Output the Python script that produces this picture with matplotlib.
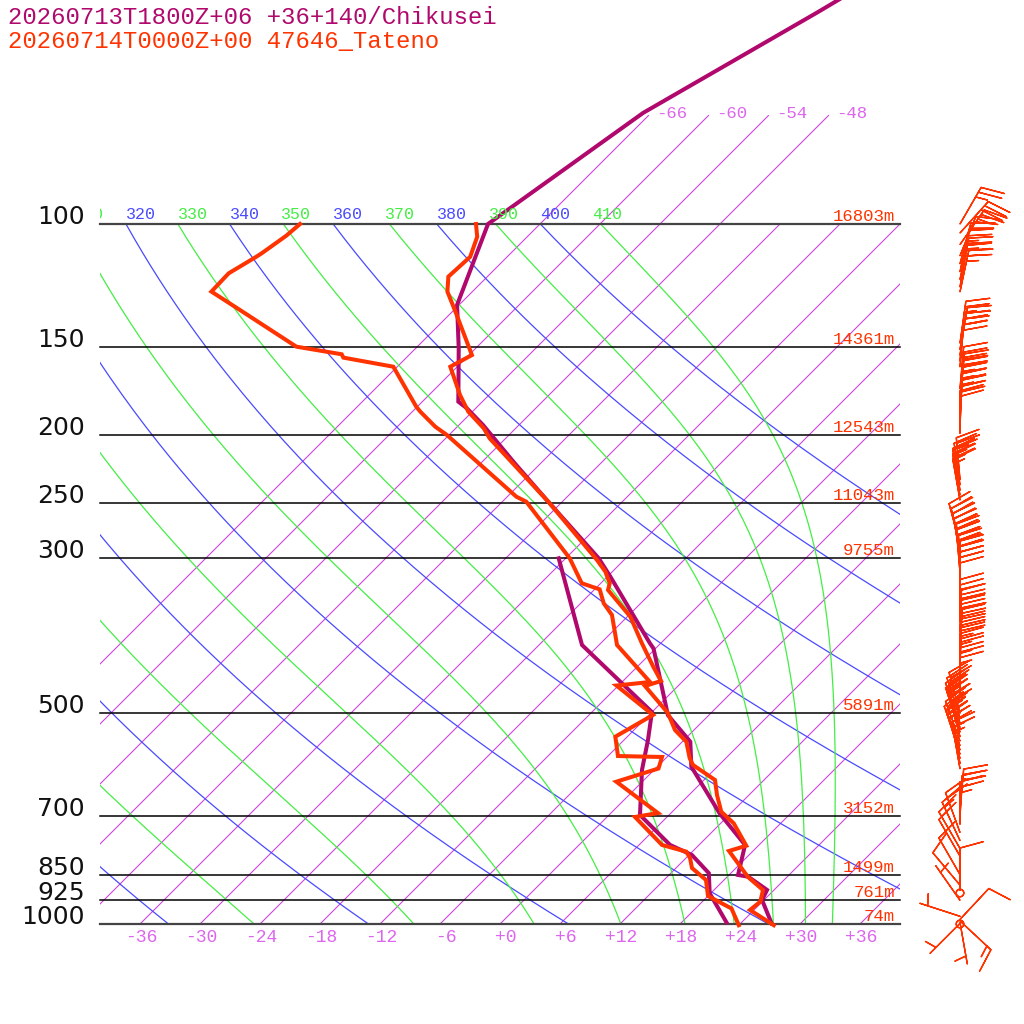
import numpy as np
import matplotlib
matplotlib.use('Agg')
import matplotlib.pyplot as plt
from matplotlib.patches import Rectangle

# Chikusei (model, purple) temperature and dew point
chik_p = [43.3, 49.8, 69.4, 100, 130.5, 150.5, 179.4, 183.3, 193.7, 219.7, 249.3, 300.3, 319, 397, 404,
          503, 549, 596, 695, 771, 851, 856, 894, 924, 998]
chik_t = [-56.5, -59.4, -66.8, -71.2, -66.2, -61.7, -56.4, -54.9, -51.6, -44.6, -37.4, -26.7, -23.7, -13.1, -12.2,
          -4.1, 0.8, 3.4, 10.9, 16.6, 18.9, 20.1, 23.3, 23.8, 27.1]
chik_td_p = [300.3, 399.4, 498, 546, 602.6, 698.7, 771, 797, 846, 904, 995]
chik_td = [-30.7, -19.7, -6.0, -3.6, -1.2, 3.1, 9.1, 12.3, 15.8, 17.9, 22.5]

# Tateno (radiosonde, red) temperature and dew point
tat_p = [100, 104.3, 111.4, 118.9, 124.9, 133.4, 153.9, 159.9, 175.5, 185.4, 195.8, 202.4, 250.6, 302, 313.8,
         326, 333.3, 363.9, 397, 429, 449.6, 457.1, 499.6, 528.3, 549, 579.8, 592.7, 622.7, 654.2, 691.2,
         718, 773, 786.5, 856.8, 894.2, 929.3, 955, 1004]
tat_t = [-72.4, -71.0, -69.7, -69.9, -68.5, -65.7, -59.7, -60.7, -56.9, -54.4, -51.2, -49.6, -37.1, -26.7, -24.7,
         -23.1, -22.6, -17.7, -13.9, -10.4, -8.2, -9.3, -4.3, -1.9, 0.4, 2.4, 3.4, 7.1, 8.8, 10.9,
         13.3, 16.8, 15.6, 20.1, 22.9, 23.8, 23.6, 27.5]
tat_td_p = [100, 103.9, 110.1, 111.4, 117.6, 124.9, 132.7, 149.7, 153.5, 155.2, 159.9, 182.4, 185.4, 194.8,
            200.2, 245.2, 249.3, 300.3, 326, 332.6, 348.2, 361.9, 399.4, 451.1, 456.4, 502.8, 540, 575.5,
            577.3, 599.6, 626.2, 694.2, 703.3, 771.1, 788.3, 804.8, 831.8, 865.3, 912, 950.3, 1004]
tat_td = [-90.0, -90.2, -90.9, -91.1, -92.2, -92.1, -87.4, -78.1, -72.8, -72.3, -66.4, -60.1, -59.2, -56.2,
          -54.2, -41.1, -39.6, -29.6, -25.9, -23.5, -21.7, -19.7, -16.2, -9.2, -12.2, -5.6, -7.2, -5.0,
          -0.5, 0.3, -2.6, 4.7, 2.8, 8.3, 11.4, 12.4, 13.6, 16.2, 18.0, 21.6, 24.0]

# Tateno winds: pressure (hPa), direction (deg), speed (kt)
wind_p = [100, 103, 107, 111, 114, 117, 120, 123, 125,
          148, 151, 154, 157, 160,
          172, 176, 180, 184, 188, 192, 196, 199,
          232, 236, 240, 244, 248,
          287, 292, 297, 302, 308, 314, 320, 326, 332, 338,
          370, 382, 394, 406, 418, 430, 442, 455, 470,
          500, 508, 516, 524, 532, 540, 548, 556, 564, 572, 580, 590, 600,
          690, 705, 720,
          740, 760, 780, 800,
          850, 880, 895, 903, 925,
          975, 985, 990, 995, 998, 1000]
wind_dir = [30, 42, 35, 22, 15, 12, 12, 10, 12,
            8, 10, 8, 5, 5,
            5, 6, 5, 4, 3, 3, 2, 0,
            355, 352, 350, 350, 350,
            345, 348, 350, 352, 355, 355, 358, 0, 0, 0,
            0, 2, 2, 3, 2, 2, 0, 0, 0,
            345, 342, 340, 340, 342, 345, 340, 338, 340, 342, 345, 350, 350,
            5, 3, 0,
            340, 335, 330, 330,
            330, 320, 0, 0, 325,
            288, 43, 133, 170, 225, 0]
wind_kt = [25, 30, 25, 20, 20, 25, 25, 25, 25,
           25, 25, 25, 20, 20,
           30, 30, 25, 25, 25, 20, 20, 20,
           25, 25, 25, 20, 15,
           30, 30, 30, 30, 30, 30, 30, 30, 30, 30,
           30, 30, 30, 30, 30, 25, 25, 25, 25,
           25, 25, 25, 20, 25, 25, 20, 20, 20, 20, 20, 15, 15,
           25, 25, 25,
           20, 15, 15, 10,
           10, 10, 10, 0, 5,
           5, 10, 15, 5, 5, 0]

isobars = [1000, 925, 850, 700, 500, 300, 250, 200, 150, 100]
heights = ['74m', '761m', '1499m', '3152m', '5891m', '9755m', '11043m', '12543m', '14361m', '16803m']
isotherms = list(range(-66, 37, 6))
dry_theta = list(range(240, 401, 20))
moist_thetae = list(range(250, 411, 20))

C_CHIK = '#b0086c'
C_TAT = '#ff3300'
C_ISO = '#cc44dd'
C_ISO_TXT = '#dd66ee'
C_DRY = '#4a4aff'
C_MOIST = '#44ee44'

Rd, CP, LV, EPS = 287.04, 1005.7, 2.501e6, 0.622


def skx(t, p):
    # skew-T: 10 px per degree, 700 px per decade of pressure, 45 degree isotherms
    return np.asarray(t, float) + 70.0 * np.log10(1000.0 / np.asarray(p, float))


def sat_mix(tk, p):
    tc = tk - 273.15
    es = 6.112 * np.exp(17.67 * tc / (tc + 243.5))
    return EPS * es / (p - es)


def theta_e(tk, p):
    r = sat_mix(tk, p) * 1000
    return tk * (1000 / p) ** (0.2854 * (1 - 0.28e-3 * r)) * np.exp((3.376 / tk - 0.00254) * r * (1 + 0.81e-3 * r))


def moist_lapse(tk, p):
    rs = sat_mix(tk, p)
    return (Rd * tk + LV * rs) / (CP + LV * LV * rs * EPS / (Rd * tk * tk)) / p


def moist_curve(the, plev):
    lo, hi = 200.0, 330.0
    for _ in range(60):
        mid = 0.5 * (lo + hi)
        if theta_e(mid, 1000.0) > the:
            hi = mid
        else:
            lo = mid
    t = 0.5 * (lo + hi)
    out = [t]
    for p0, p1 in zip(plev[:-1], plev[1:]):
        dp = p1 - p0
        k1 = moist_lapse(t, p0)
        k2 = moist_lapse(t + 0.5 * dp * k1, p0 + 0.5 * dp)
        k3 = moist_lapse(t + 0.5 * dp * k2, p0 + 0.5 * dp)
        k4 = moist_lapse(t + dp * k3, p1)
        t = t + dp * (k1 + 2 * k2 + 2 * k3 + k4) / 6
        out.append(t)
    return np.array(out) - 273.15


fig = plt.figure(figsize=(10.24, 10.24), dpi=100)
ax = fig.add_axes([0, 0, 1, 1])
ax.set_yscale('log')
ax.set_xlim(-50, 52.4)
ax.set_ylim(1000 * 10 ** (100 / 700), 1000 * 10 ** (-924 / 700))
ax.axis('off')

p_top = 1000 * 10 ** (-924 / 700)
box = Rectangle((-40, p_top), 80, 1000 - p_top, transform=ax.transData, fill=False, visible=False)
ax.add_patch(box)
box_low = Rectangle((-40, p_top), 80, 1012 - p_top, transform=ax.transData, fill=False, visible=False)
ax.add_patch(box_low)

mono = 'Liberation Mono'
plev = np.linspace(1000, 100, 181)

# isotherms
for t in isotherms:
    ptop = 70 if -66 <= t <= -48 else 100
    pp = np.array([1000, ptop])
    ln, = ax.plot(skx([t, t], pp), pp, color=C_ISO, lw=0.8)
    ln.set_clip_path(box)
    if ptop == 70:
        ax.annotate(f'{t:+d}', (skx(t, 70), 70), xytext=(8, 2), textcoords='offset pixels',
                    ha='left', va='center', color=C_ISO_TXT, fontsize=12.5, family=mono)
for t in isotherms:
    if -36 <= t <= 36:
        ax.annotate(f'{t:+d}', (t, 1000), xytext=(17, -13), textcoords='offset pixels',
                    ha='right', va='center', color=C_ISO_TXT, fontsize=13, family=mono)

# dry adiabats
for th in dry_theta:
    tt = th * (plev / 1000.0) ** 0.2857 - 273.15
    ln, = ax.plot(skx(tt, plev), plev, color=C_DRY, lw=0.9)
    ln.set_clip_path(box)

# moist adiabats
for th in moist_thetae:
    tt = moist_curve(th, plev)
    ln, = ax.plot(skx(tt, plev), plev, color=C_MOIST, lw=0.9)
    ln.set_clip_path(box)

# theta labels along 100 hPa
for th in sorted(dry_theta + moist_thetae):
    if th < 310:
        continue
    col = C_DRY if th in dry_theta else C_MOIST
    t100 = th * 0.1 ** 0.2857 - 273.15
    txt = ax.annotate(str(th), (skx(t100, 100), 100), xytext=(0, 5), textcoords='offset pixels',
                      ha='left', va='baseline', color=col, fontsize=12, family=mono)
    txt.set_clip_path(box)

# isobars, pressure and height labels
for p, h in zip(isobars, heights):
    edge = p in (100, 1000)
    ax.plot([-40, 40], [p, p], color='#444444' if edge else 'black', lw=1.6 if edge else 1.1)
    ax.text(-41.5, p, str(p), ha='right', va='baseline', fontsize=18, family='DejaVu Sans', color='#111111')
    ax.annotate(h, (39.5, p), xytext=(0, 3), textcoords='offset pixels', ha='right', va='baseline',
                color=C_TAT, fontsize=12.5, family=mono)

# profiles
for pp, tt in [(chik_p, chik_t), (chik_td_p, chik_td)]:
    ln, = ax.plot(skx(tt, pp), pp, color=C_CHIK, lw=2.9, solid_joinstyle='miter')
    ln.set_clip_path(box_low)
for pp, tt in [(tat_p, tat_t), (tat_td_p, tat_td)]:
    ln, = ax.plot(skx(tt, pp), pp, color=C_TAT, lw=2.9, solid_joinstyle='miter')
    ln.set_clip_path(box_low)

# wind barbs
wd = np.radians(wind_dir)
spd = np.array(wind_kt, float)
u = -spd * np.sin(wd)
v = -spd * np.cos(wd)
ax.barbs(np.full(len(wind_p), 46.0), wind_p, u, v, length=7.8, color=C_TAT, linewidth=1.0,
         sizes=dict(emptybarb=0.09, spacing=0.13, height=0.55, width=0.3), clip_on=False)

# titles
fig.text(8 / 1024, 1 - 24 / 1024, '20260713T1800Z+06 +36+140/Chikusei', color=C_CHIK, fontsize=17.2,
         family=mono, va='baseline')
fig.text(8 / 1024, 1 - 48 / 1024, '20260714T0000Z+00 47646_Tateno', color=C_TAT, fontsize=17.2,
         family=mono, va='baseline')

fig.savefig('out.png', dpi=100)
